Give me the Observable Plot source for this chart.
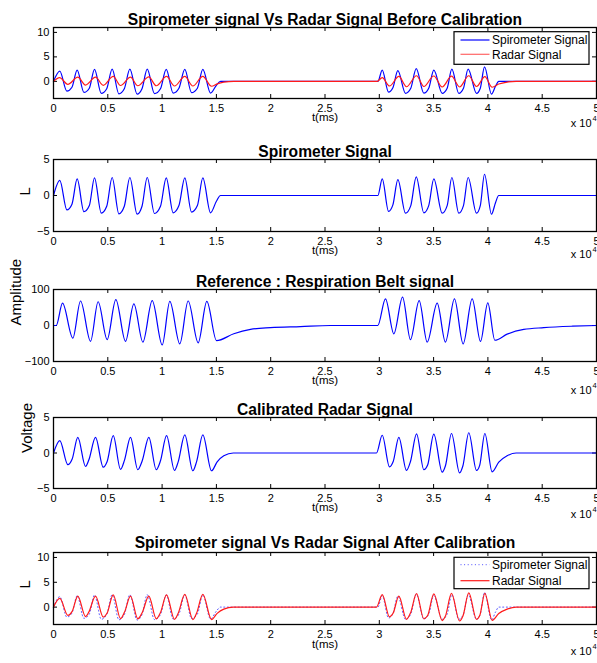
<!DOCTYPE html>
<html><head><meta charset="utf-8">
<script src="https://cdn.jsdelivr.net/npm/d3@7"></script>
<script src="https://cdn.jsdelivr.net/npm/@observablehq/plot@0.6"></script>
<style>
body{margin:0;background:#fff;}
#chart{position:relative;width:597px;height:663px;background:#fff;font-family:"Liberation Sans",Arial,Helvetica,sans-serif;}
#chart svg{position:absolute;left:0;}
</style></head><body><div id="chart"></div>
<script>
// ---- data ----
const xTicks = [0, 5000, 10000, 15000, 20000, 25000, 30000, 35000, 40000, 45000, 50000];

// Spirometer signal (L)
const spiroT = [0, 580, 1230, 1700, 2180, 2800, 3300, 3775, 4400, 4900, 5400, 6020, 6520, 7030, 7700, 8150, 8630, 9300, 9850, 10380, 11020, 11550, 12090, 12710, 13250, 13750, 14460, 15000, 15380,
  29870, 30270, 30850, 31250, 31710, 32410, 32900, 33400, 34100, 34550, 35020, 35790, 36250, 36680, 37320, 37750, 38180, 38950, 39300, 39690, 40330, 40700, 41000, 50000];
const spiroV = [0, 2.1, -2.0, -1.2, 2.3, -2.25, -1.4, 2.45, -2.45, -1.5, 2.5, -2.55, -1.5, 2.5, -2.6, -1.5, 2.5, -2.5, -1.5, 2.45, -2.4, -1.4, 2.45, -2.3, -1.4, 2.45, -2.4, -0.8, 0,
  0, 2.3, -2.2, -1.3, 2.2, -2.45, -1.4, 2.6, -2.4, -1.4, 2.3, -2.45, -1.4, 2.5, -2.45, -1.4, 2.5, -2.45, -1.4, 2.95, -2.6, -1.0, 0, 0];

// Radar signal before calibration
const radarT = [0, 560, 1320, 2240, 2950, 3870, 4580, 5500, 6170, 7090, 7760, 8780, 9460, 10410, 11140, 12090, 12830, 13750, 14550, 15070, 15680, 16600,
  29800, 30270, 30940, 31800, 32500, 33430, 34100, 35020, 35790, 36650, 37390, 38240, 38950, 39720, 40390, 41000, 41770, 42600, 50000];
const radarV = [0, 0.75, -0.6, 0.85, -0.75, 0.85, -0.8, 1.0, -0.85, 0.85, -0.9, 0.9, -0.9, 1.0, -0.95, 1.0, -0.95, 1.0, -1.0, -0.5, -0.15, 0,
  0, 0.75, -0.95, 1.0, -1.1, 1.15, -1.05, 1.1, -1.15, 1.05, -1.15, 1.15, -1.05, 0.95, -1.2, -0.55, -0.15, 0, 0];

// Respiration belt (amplitude)
const beltT = [0, 250, 830, 1780, 2490, 3410, 4110, 4940, 5740, 6630, 7400, 8230, 9090, 10010, 10710, 11630, 12400, 13320, 14120, 15010, 16600, 18140, 19980, 22740, 25500,
  29860, 30570, 31340, 32140, 32870, 33670, 34410, 35330, 36090, 36920, 37720, 38550, 39320, 39990, 40640, 41770, 43300, 45150, 47800, 50000];
const beltV = [0, 0, 62, -35, 68, -44, 66, -39, 72, -44, 60, -46, 69, -54, 67, -51, 68, -48, 67, -42, -23, -11, -6, -3, 0,
  0, 74, -23, 79, -39, 69, -46, 62, -46, 74, -51, 74, -44, 63, -41, -24, -11, -6, -2, 0];

// Calibrated radar signal (V)
const calT = [0, 580, 1320, 1720, 2240, 2950, 3250, 3870, 4580, 4940, 5500, 6170, 6540, 7090, 7760, 8170, 8780, 9460, 9850, 10410, 11140, 11480, 12090, 12830, 13170, 13750, 14550, 15070, 15680, 16560,
  29740, 30270, 30940, 31280, 31800, 32500, 32870, 33430, 34100, 34450, 35020, 35790, 36090, 36650, 37390, 37700, 38240, 38950, 39250, 39720, 40390, 41000, 41770, 42600, 50000];
const calV = [0, 1.75, -1.65, -0.85, 2.2, -1.9, -1.0, 2.2, -2.0, -1.2, 2.45, -2.3, -1.0, 2.2, -2.35, -1.1, 2.2, -2.35, -1.1, 2.45, -2.45, -1.25, 2.55, -2.5, -1.25, 2.55, -2.5, -1.25, -0.4, 0,
  0, 2.5, -1.95, -1.2, 2.2, -2.45, -1.2, 2.7, -2.35, -1.7, 2.65, -2.7, -1.8, 2.75, -2.8, -1.8, 2.85, -2.45, -1.7, 2.75, -2.65, -1.3, -0.4, 0, 0];

const legendLabels = ["Spirometer Signal", "Radar Signal"];

// ---- helpers ----
const rows = (T, V) => T.map((t, i) => ({t, v: V[i]}));
const FONT = '"Liberation Sans", Arial, Helvetica, sans-serif';
const BLUE = "#0000ff", RED = "#ff1a1a", DOTBLUE = "#4d4dff";
const chart = document.getElementById("chart");

function panel(cfg) {
  const plotH = cfg.height - cfg.mt - cfg.mb;
  const marks = [
    Plot.ruleX(xTicks, {x: d => d, insetTop: plotH - 4, stroke: "black", strokeWidth: 1}),
    Plot.ruleX(xTicks, {x: d => d, insetBottom: plotH - 4, stroke: "black", strokeWidth: 1}),
    Plot.ruleY(cfg.yTicks, {y: d => d, insetRight: 543 - 4, stroke: "black", strokeWidth: 1}),
    Plot.ruleY(cfg.yTicks, {y: d => d, insetLeft: 543 - 4, stroke: "black", strokeWidth: 1}),
    ...cfg.series.map(s => Plot.line(rows(s.T, s.V), {x: "t", y: "v", stroke: s.color, strokeWidth: s.width || 1.2, strokeDasharray: s.dash, curve: "monotone-x"})),
    Plot.frame({stroke: "black", strokeWidth: 1.3}),
    Plot.text([cfg.title], {text: d => d, frameAnchor: "top", dy: cfg.titleDy, fontSize: 15.6, fontWeight: "bold"}),
    Plot.text(["t(ms)"], {text: d => d, frameAnchor: "bottom", dy: cfg.tDy, fontSize: 11.5}),
    Plot.text(["x 10"], {text: d => d, frameAnchor: "bottom-right", textAnchor: "end", dx: -5, dy: cfg.expDy, fontSize: 11}),
    Plot.text(["4"], {text: d => d, frameAnchor: "bottom-right", textAnchor: "start", dx: -4, dy: cfg.expDy - 6, fontSize: 7.5})
  ];
  if (cfg.ylabel) marks.push(Plot.text([cfg.ylabel], {text: d => d, frameAnchor: "left", dx: cfg.ylabelX - 53, rotate: -90, fontSize: 15}));
  const svg = Plot.plot({
    width: 597, height: cfg.height,
    marginLeft: 53, marginRight: 1, marginTop: cfg.mt, marginBottom: cfg.mb,
    style: {fontFamily: FONT, fontSize: "11px", color: "black", background: "transparent", overflow: "visible"},
    x: {domain: [0, 50000], ticks: xTicks, tickFormat: d => d / 10000, tickSize: 0, tickPadding: 5.5, label: null},
    y: {domain: cfg.yDomain, ticks: cfg.yTicks, tickSize: 0, tickPadding: 4, label: null},
    marks
  });
  svg.style.top = cfg.top + "px";
  chart.appendChild(svg);
  if (cfg.legend) {
    const L = cfg.legend;
    const g = d3.select(svg).append("g").attr("font-family", FONT).attr("text-anchor", "start");
    g.append("rect").attr("x", 454).attr("y", L.y).attr("width", 135).attr("height", L.h)
      .attr("fill", "white").attr("stroke", "black").attr("stroke-width", 1.2);
    L.items.forEach((it, i) => {
      const y = L.y + L.first + i * L.gap;
      g.append("line").attr("x1", 460.5).attr("x2", 489.5).attr("y1", y).attr("y2", y)
        .attr("stroke", it.color).attr("stroke-width", it.width || 1.2).attr("stroke-dasharray", it.dash || null);
      g.append("text").attr("x", 492).attr("y", y).attr("dy", "0.36em").attr("text-anchor", "start")
        .attr("font-size", 12).attr("fill", "black").text(it.label);
    });
  }
}

panel({top: 0, height: 133, mt: 27, mb: 35, yDomain: [-3.5, 11], yTicks: [0, 5, 10],
  title: "Spirometer signal Vs Radar Signal Before Calibration", titleDy: -14, tDy: 22, expDy: 28,
  series: [{T: spiroT, V: spiroV, color: BLUE}, {T: radarT, V: radarV, color: RED}],
  legend: {y: 31.7, h: 32.6, first: 8.3, gap: 14.3, items: [{label: legendLabels[0], color: BLUE}, {label: legendLabels[1], color: "#ff6666"}]}});

panel({top: 133, height: 132, mt: 26, mb: 34, yDomain: [-5, 5], yTicks: [-5, 0, 5],
  title: "Spirometer Signal", titleDy: -14, tDy: 22, expDy: 26, ylabel: "L", ylabelX: 25,
  series: [{T: spiroT, V: spiroV, color: BLUE}]});

panel({top: 265, height: 127, mt: 24, mb: 31, yDomain: [-100, 100], yTicks: [-100, 0, 100],
  title: "Reference : Respiration Belt signal", titleDy: -14, tDy: 22, expDy: 32, ylabel: "Amplitude", ylabelX: 16,
  series: [{T: beltT, V: beltV, color: BLUE}]});

panel({top: 392, height: 128, mt: 25, mb: 32, yDomain: [-5, 5], yTicks: [-5, 0, 5],
  title: "Calibrated Radar Signal", titleDy: -14, tDy: 22, expDy: 29, ylabel: "Voltage", ylabelX: 27,
  series: [{T: calT, V: calV, color: BLUE}]});

panel({top: 520, height: 143, mt: 32, mb: 39, yDomain: [-3.5, 11], yTicks: [0, 5, 10],
  title: "Spirometer signal Vs Radar Signal After Calibration", titleDy: -16, tDy: 23, expDy: 30, ylabel: "L", ylabelX: 25,
  series: [{T: spiroT, V: spiroV, color: DOTBLUE, dash: "1,2.6", width: 1}, {T: calT, V: calV, color: RED}],
  legend: {y: 37.3, h: 31.4, first: 7.4, gap: 16, items: [{label: legendLabels[0], color: DOTBLUE, dash: "1,2.6", width: 1}, {label: legendLabels[1], color: RED}]}});
</script></body></html>
